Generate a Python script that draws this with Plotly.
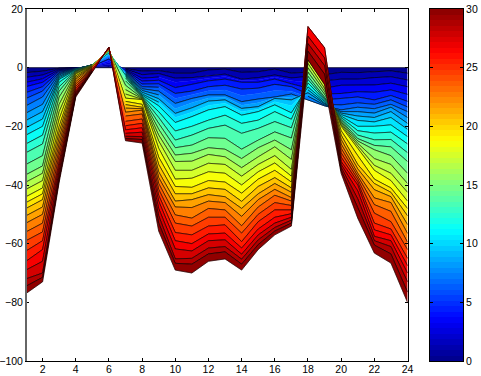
import plotly.graph_objects as go

hours = list(range(1, 25))
x_ticks = list(range(2, 25, 2))
y_ticks = [-100, -80, -60, -40, -20, 0, 20]
bar_ticks = [0, 5, 10, 15, 20, 25, 30]

# depth of each level 0..30 at each x position
d01 = [0,-1.7,-3.3,-5,-6.5,-8.5,-10.5,-13,-15.5,-18,-20.5,-23,-26,-29,-33,-36.5,-39,-41.5,-44,-46,-48,-50.5,-53,-56,-59,-62.5,-66,-69,-72,-74.5,-77]
d02 = [0,-1.2,-2.5,-3.8,-5,-6.5,-8,-10,-12.5,-15,-17.5,-20,-23,-26,-30,-33.5,-36,-38.5,-41,-43,-45,-47.5,-50,-53,-56,-59,-62,-66,-70,-71.5,-73]
d03 = [0,-.2,-.4,-.7,-1,-1.3,-1.7,-2.1,-2.5,-3,-3.5,-4,-5,-6.5,-8,-10,-12.5,-15,-17.5,-20,-22,-24,-26,-28,-30,-32,-33.5,-35,-36.5,-38,-39]
d04 = [0,-.05,-.1,-.15,-.2,-.25,-.3,-.35,-.4,-.5,-.6,-.8,-1,-1.1,-1.2,-1.4,-1.6,-1.9,-2.2,-2.8,-3.4,-4,-4.8,-5.6,-6.4,-7.2,-8,-8.5,-9,-9.5,-10]
d05 = [0,.2,.3,.4,.5,.6,.7,.8,.9,1,1,1,1,1,1,.9,.8,.7,.6,.5,.4,.3,.1,-.1,-.3,-.5,-.7,-.9,-1.1,-1.3,-1.5]
d06 = [0,.6,1.2,1.8,2.4,3,3.4,3.8,4.2,4.5,4.8,5.1,5.3,5.5,5.7,5.8,5.9,6,6.1,6.2,6.3,6.4,6.5,6.6,6.7,6.8,6.85,6.9,6.95,7,7]
d07 = [0,-.3,-.5,-.7,-.9,-1.1,-1.3,-1.5,-1.8,-2,-2.3,-2.6,-3,-3.5,-4.5,-6,-7.5,-9,-10.4,-11.5,-12.6,-13.8,-15.2,-16.5,-18.3,-19.8,-21.2,-22.4,-23.4,-24.2,-24.9]
d08 = [0,-1.2,-2.4,-3.6,-4.6,-5.6,-6.5,-7.2,-7.8,-8.4,-9,-9.4,-9.7,-10,-10.2,-10.4,-10.6,-10.8,-10.9,-12.5,-13.5,-14,-14.5,-15.8,-17.5,-19,-20.5,-22,-23.5,-24.5,-25.7]
d09 = [0,-1,-2,-3.2,-4.3,-5.5,-6.7,-8,-9.3,-10.6,-11.8,-13,-15,-17,-19,-21,-23,-25,-27.5,-30.5,-33,-35.5,-37.5,-39.5,-41.5,-43.5,-45.5,-48,-50.5,-53,-55.7]
d10 = [0,-1.9,-3.6,-5,-6.8,-8.8,-10.5,-12.2,-14,-15.6,-17,-18.7,-21.6,-24.7,-27.3,-29.8,-32,-35,-38,-40.5,-43,-45.5,-47.5,-50.2,-53,-56.2,-59,-61.8,-65.2,-66.7,-69]
d11 = [0,-1.9,-3.4,-4.5,-5.7,-8,-9.2,-10.5,-12,-13.7,-15.2,-16.7,-20,-23,-26.4,-29.2,-31.9,-35,-37.7,-40.8,-43,-45,-47.7,-51.3,-54,-57,-60,-62.5,-65,-67,-70]
d12 = [0,-.8,-2.7,-3.6,-4.5,-6.5,-7.9,-9.3,-10.3,-11.4,-12.9,-14.4,-17.9,-20.7,-23.9,-27.3,-29.6,-32.6,-35.5,-38.5,-41,-43.3,-45.5,-48,-51,-54,-56.7,-59,-61.5,-63.5,-66]
d13 = [0,-.5,-2.2,-3,-3.9,-6,-7.6,-9.3,-10.1,-11,-12.1,-13.3,-16.2,-19.6,-24.1,-27.8,-30.4,-33,-36,-39,-41.5,-44,-46,-48.5,-51,-53.6,-56.4,-58.7,-61,-62.8,-65.2]
d14 = [0,-1.6,-3.9,-4.5,-5,-7.3,-9.5,-11.6,-12.8,-13.9,-15,-16.2,-19,-22.4,-27.8,-31,-34.1,-37,-40,-42.8,-45.6,-48,-50.7,-53.9,-56.4,-59.3,-61.5,-63.6,-65.3,-67,-69]
d15 = [0,-1.4,-3.4,-4.2,-5,-7,-8.8,-10.7,-12,-13.3,-14.2,-15,-17.9,-20.7,-24.7,-27.3,-30.4,-33,-35.5,-38,-40.5,-43,-45,-47.5,-50,-52.5,-55,-57,-58.7,-60.3,-62]
d16 = [0,-.5,-2.5,-3.2,-3.9,-5.7,-7.8,-10,-10.3,-10.5,-11.6,-12.7,-15,-18.4,-21.9,-24.7,-27,-30,-32.5,-35,-37.5,-39.5,-41.5,-43.5,-46,-48.5,-51,-53,-54.5,-55.7,-57]
d17 = [0,-1.9,-3.5,-4.5,-5.5,-6.5,-8,-9,-10,-11,-13,-15.4,-17.6,-20.5,-24,-28,-31.3,-34.7,-37,-39,-41,-42.5,-44.3,-45.5,-47,-48.5,-49.8,-51,-52,-53,-54]
d18 = [0,-1.5,-3,-5,-7,-9,-10,-10.9,-9.7,-8.5,-7.5,-6.5,-5.2,-4,-2.9,-1.5,0,1.5,2.7,4,5.5,7,8.2,9.5,10.7,12.3,14,10.7,8.2,5.6,2.7]
d19 = [0,-2.4,-4.5,-7,-9,-11,-12.5,-13,-12.7,-12.3,-12,-11.5,-11,-10.5,-10,-9,-8,-7,-5.5,-4.5,-3.5,-2.5,-1,1,3,5,6.8,3.3,.7,-2.2,-5.8]
d20 = [0,-1.6,-3.9,-6,-8.8,-10.5,-12.7,-14.4,-15,-15.5,-16,-16.5,-17,-17.5,-18,-18.5,-19,-19.5,-20,-21.5,-23,-24.5,-26,-27.5,-29,-30.5,-32,-33,-34,-35,-36]
d21 = [0,-1.7,-3.9,-6,-8.2,-10,-12,-13.5,-15,-16.5,-18,-20,-21.5,-23,-24.2,-25,-25.8,-26.6,-27.5,-30,-33,-34.5,-36,-37,-38,-39,-40,-42,-44.7,-47.7,-51.3]
d22 = [0,-1.4,-3.4,-5.9,-8.4,-11,-12.5,-14,-15.5,-17,-18.5,-20,-22.3,-24.6,-26.5,-28,-31,-33.3,-35,-38,-39.5,-41.6,-44.4,-46.7,-49.6,-53,-55.3,-57.5,-59,-60.5,-63.2]
d23 = [0,-1.1,-3.1,-5.3,-7.6,-9.5,-11,-12.5,-13.5,-15,-17,-19.5,-22,-24.5,-27,-30,-33,-36,-38.5,-41,-42.5,-44,-46,-49,-52.5,-55,-57,-59,-61,-63.5,-66.6]
d24 = [0,-1.9,-4.2,-6.5,-9.1,-11.5,-13.4,-15,-17,-19,-21,-23.5,-26,-29,-32,-36,-39.5,-42.5,-45.5,-48,-50.5,-53.5,-56.5,-59.5,-62,-65,-67.5,-70,-73,-76.5,-80]

columns = [d01,d02,d03,d04,d05,d06,d07,d08,d09,d10,d11,d12,d13,d14,d15,d16,d17,d18,d19,d20,d21,d22,d23,d24]
for c in columns:
    assert len(c) == 31, len(c)
levels = [list(v) for v in zip(*columns)]

# contour outlines left undrawn over a run of x positions
unlined_mid = {3, 6, 8, 10}
unlined_peak = set(range(1, 31)) - {5, 11, 15, 18, 22, 26, 30}


def jet(t):
    def ramp(c):
        return max(0.0, min(1.0, 1.5 - abs(4 * t - c)))
    return f"rgb({round(255*ramp(3))},{round(255*ramp(2))},{round(255*ramp(1))})"


def outline(k):
    ys = []
    for x, y in zip(hours, levels[k]):
        gone = (k in unlined_mid and 10 <= x <= 17) or (k in unlined_peak and x == 6)
        ys.append(None if gone else y)
    return ys


fig = go.Figure()
for i in range(30):
    upper, lower = levels[i], levels[i + 1]
    color = jet((i + 0.5) / 30)
    fig.add_trace(go.Scatter(
        x=hours + hours[::-1], y=upper + lower[::-1],
        mode="lines", fill="toself", fillcolor=color, line=dict(color=color, width=0.4),
        hoverinfo="skip", showlegend=False, xaxis="x", yaxis="y"))
    for k in (i, i + 1):
        fig.add_trace(go.Scatter(
            x=hours, y=outline(k), mode="lines", connectgaps=False,
            line=dict(color="rgba(0,0,0,0.85)", width=0.7),
            hoverinfo="skip", showlegend=False, xaxis="x", yaxis="y"))

steps = 64
bar_values = [(k + 0.5) * 30 / steps for k in range(steps)]
fig.add_trace(go.Heatmap(
    x=[0], y=bar_values, z=[[v] for v in bar_values], zmin=0, zmax=30,
    colorscale=[[k / (steps - 1), jet((k + 0.5) / steps)] for k in range(steps)],
    showscale=False, hoverinfo="skip", xaxis="x2", yaxis="y2"))

font = dict(family="Liberation Sans, Arial, sans-serif", size=10.5, color="black")
axis = dict(showgrid=False, zeroline=False, showline=True, linecolor="black", linewidth=1,
            mirror="ticks", ticks="inside", ticklen=3, tickcolor="black", tickwidth=0.7,
            tickfont=font, automargin=False)
L, R, T, B = 26, 407.5, 9, 361
W, H = 481, 376
BAR_L, BAR_R = 429.5, 463
span = BAR_R - L
fig.update_layout(
    width=W, height=H, autosize=False, paper_bgcolor="white", plot_bgcolor="white",
    margin=dict(l=L, r=W - BAR_R, t=T, b=H - B, pad=0), showlegend=False,
    xaxis=dict(axis, range=[1, 24], tickvals=x_ticks, domain=[0, (R - L) / span], ticklabelstandoff=-2),
    yaxis=dict(axis, range=[-100, 20], tickvals=y_ticks, domain=[0, 1]),
    xaxis2=dict(axis, range=[-0.5, 0.5], showticklabels=False, ticks="", anchor="y2",
                domain=[(BAR_L - L) / span, 1]),
    yaxis2=dict(axis, range=[0, 30], tickvals=bar_ticks, side="right", anchor="x2", domain=[0, 1]),
)
fig.add_shape(type="line", xref="x domain", yref="y domain", x0=0, x1=0, y0=0, y1=1,
              line=dict(color="#666666", width=2))
fig.write_html("out.html", config=dict(displayModeBar=False),
               post_script="document.body.style.margin='0';")
